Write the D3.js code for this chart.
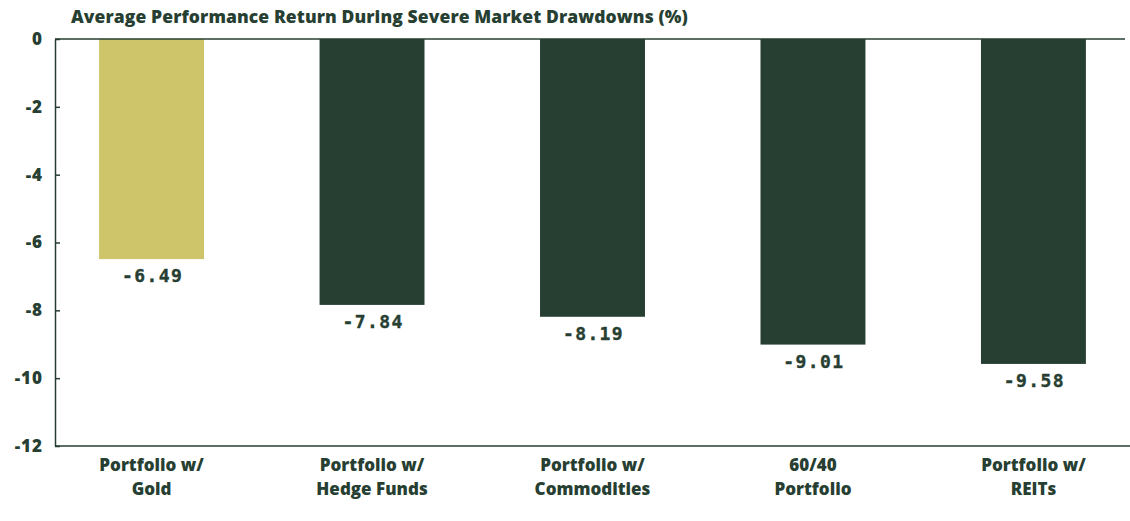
<!DOCTYPE html>
<html>
<head>
<meta charset="utf-8">
<script src="https://cdn.jsdelivr.net/npm/d3@7"></script>
<style>
  body { margin: 0; background: #fff; }
  svg { display: block; }
</style>
</head>
<body>
<div id="chart"></div>
<script>
// chart data
var categories = [
  ["Portfolio w/", "Gold"],
  ["Portfolio w/", "Hedge Funds"],
  ["Portfolio w/", "Commodities"],
  ["60/40", "Portfolio"],
  ["Portfolio w/", "REITs"]
];
var values = [-6.49, -7.84, -8.19, -9.01, -9.58];
var yTicks = [0, -2, -4, -6, -8, -10, -12];
var title = "Average Performance Return During Severe Market Drawdowns (%)";

var dark = "#273f32", gold = "#cec46a";
var sans = "'Open Sans', Inter, sans-serif";

var width = 1130, height = 521;
var margin = {top: 39, right: 0, bottom: 75, left: 55};

var svg = d3.select("#chart").append("svg")
    .attr("width", width)
    .attr("height", height);

var x = d3.scaleBand()
    .domain(d3.range(values.length))
    .range([margin.left, width - margin.right])
    .paddingInner(0.524)
    .paddingOuter(0.2);

var y = d3.scaleLinear()
    .domain([0, -12])
    .range([margin.top, height - margin.bottom]);

// title
svg.append("text")
    .attr("x", 71)
    .attr("y", 22.5)
    .attr("fill", dark)
    .style("font-family", sans)
    .style("font-weight", 800)
    .style("font-size", "17.5px")
    .style("letter-spacing", "0.1px")
    .text(title);

// bars
svg.selectAll("rect.bar")
    .data(values)
  .enter().append("rect")
    .attr("class", "bar")
    .attr("x", function(d, i) { return x(i); })
    .attr("y", y(0))
    .attr("width", x.bandwidth())
    .attr("height", function(d) { return y(d) - y(0); })
    .attr("fill", function(d, i) { return i === 0 ? gold : dark; });

// value labels
svg.selectAll("text.val")
    .data(values)
  .enter().append("text")
    .attr("class", "val")
    .attr("x", function(d, i) { return x(i) + x.bandwidth() / 2 + 1; })
    .attr("y", function(d) { return y(d) + 23; })
    .attr("text-anchor", "middle")
    .attr("fill", dark)
    .attr("stroke", dark)
    .attr("stroke-width", 0.4)
    .style("font-family", "'DejaVu Sans Mono', monospace")
    .style("font-weight", 700)
    .style("font-size", "18px")
    .style("letter-spacing", "1.4px")
    .text(function(d) { return d.toFixed(2); });

// y axis
var yAxis = svg.append("g")
    .attr("transform", "translate(" + margin.left + ",0)")
    .call(d3.axisLeft(y).tickValues(yTicks).tickSizeInner(-5).tickSizeOuter(0).tickPadding(12)
      .tickFormat(function(d) { return String(d); }));
yAxis.select(".domain").attr("stroke", dark).attr("stroke-width", 1.5);
yAxis.selectAll(".tick line").attr("stroke", dark).attr("stroke-width", 1.5);
yAxis.selectAll(".tick text")
    .attr("fill", dark)
    .style("font-family", sans)
    .style("font-weight", 800)
    .style("font-size", "17px")
    .style("letter-spacing", "1px");

// top and bottom lines
svg.append("line")
    .attr("x1", margin.left).attr("x2", width - 5)
    .attr("y1", y(0)).attr("y2", y(0))
    .attr("stroke", dark).attr("stroke-width", 1.5);
svg.append("line")
    .attr("x1", margin.left).attr("x2", width)
    .attr("y1", y(-12)).attr("y2", y(-12))
    .attr("stroke", dark).attr("stroke-width", 1.5);

// x labels
var xl = svg.selectAll("text.cat")
    .data(categories)
  .enter().append("text")
    .attr("class", "cat")
    .attr("x", function(d, i) { return x(i) + x.bandwidth() / 2; })
    .attr("y", 471)
    .attr("text-anchor", "middle")
    .attr("fill", dark)
    .style("font-family", sans)
    .style("font-weight", 800)
    .style("font-size", "17px")
    .style("letter-spacing", "0px");
xl.selectAll("tspan")
    .data(function(d) { return d; })
  .enter().append("tspan")
    .attr("x", function() { return d3.select(this.parentNode).attr("x"); })
    .attr("dy", function(d, i) { return i === 0 ? 0 : 24; })
    .text(function(d) { return d; });
</script>
</body>
</html>
